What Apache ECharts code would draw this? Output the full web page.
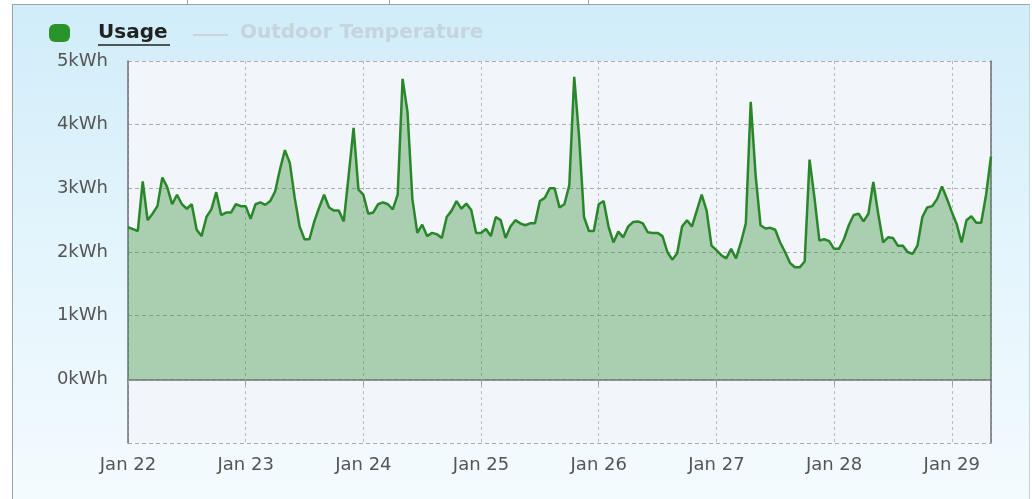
<!DOCTYPE html>
<html>
<head>
<meta charset="utf-8">
<script src="https://cdn.jsdelivr.net/npm/echarts@6/dist/echarts.min.js"></script>
<style>
  html, body { margin: 0; padding: 0; background: #fff; }
  #frame {
    position: absolute; left: 12px; top: 4px; width: 1016px; height: 495px;
    border-left: 1px solid #9aa3a8; border-top: 1px solid #9aa3a8; border-right: 1px solid #c9d3d8;
    background: linear-gradient(to bottom, #d0edf9 0%, #e2f4fc 45%, #f4fbfe 100%);
  }
  .tab { position: absolute; top: 0; width: 1px; height: 5px; background: #9aa3a8; }
  #main { position: absolute; left: 0; top: 0; width: 1032px; height: 499px; }
</style>
</head>
<body>
<div id="frame"></div>
<div class="tab" style="left:187px"></div>
<div class="tab" style="left:389px"></div>
<div class="tab" style="left:588px"></div>
<div id="main"></div>
<script>
var myChart = echarts.init(document.getElementById('main'));

// hourly usage in kWh, starting Jan 22 00:00
var usage = [
  2.39, 2.36, 2.33, 3.11, 2.50, 2.60, 2.72, 3.17, 3.02, 2.75, 2.90, 2.75,
  2.68, 2.75, 2.35, 2.25, 2.55, 2.67, 2.94, 2.58, 2.62, 2.62, 2.75, 2.72,
  2.72, 2.52, 2.75, 2.78, 2.74, 2.80, 2.95, 3.30, 3.60, 3.40, 2.85, 2.40,
  2.20, 2.20, 2.48, 2.70, 2.90, 2.70, 2.65, 2.65, 2.48, 3.20, 3.95, 2.98,
  2.90, 2.60, 2.62, 2.75, 2.78, 2.75, 2.67, 2.90, 4.72, 4.20, 2.83, 2.30,
  2.43, 2.25, 2.30, 2.28, 2.22, 2.55, 2.65, 2.80, 2.68, 2.76, 2.66, 2.30,
  2.30, 2.36, 2.25, 2.55, 2.50, 2.22, 2.40, 2.50, 2.45, 2.42, 2.45, 2.45,
  2.80, 2.85, 3.00, 3.00, 2.70, 2.75, 3.05, 4.75, 3.80, 2.55, 2.33, 2.33,
  2.75, 2.80, 2.40, 2.15, 2.32, 2.23, 2.40, 2.47, 2.48, 2.45, 2.31, 2.30,
  2.30, 2.25, 2.00, 1.88, 1.98, 2.40, 2.50, 2.40, 2.65, 2.90, 2.65, 2.10,
  2.03, 1.95, 1.90, 2.05, 1.90, 2.15, 2.45, 4.36, 3.20, 2.42, 2.37, 2.38,
  2.35, 2.15, 2.00, 1.83, 1.76, 1.76, 1.85, 3.45, 2.85, 2.18, 2.20, 2.17,
  2.05, 2.05, 2.20, 2.42, 2.58, 2.60, 2.48, 2.60, 3.10, 2.60, 2.15, 2.23,
  2.22, 2.10, 2.10, 2.00, 1.97, 2.10, 2.55, 2.70, 2.72, 2.83, 3.03, 2.84,
  2.63, 2.44, 2.15, 2.50, 2.56, 2.46, 2.46, 2.90, 3.50
];
var temperature = [];  // series is switched off in the legend

var start = new Date(2013, 0, 22).getTime();
var hour = 3600 * 1000;
var usageData = usage.map(function (v, i) { return [start + i * hour, v]; });

var labelFont = 'DejaVu Sans';

var option = {
    backgroundColor: 'transparent',
    animation: false,
    grid: {
        left: 128, right: 41, top: 61, bottom: 56,
        show: true, backgroundColor: '#f2f5fa', borderWidth: 0
    },
    graphic: [
        { type: 'rect', left: 49, top: 24, shape: { width: 21, height: 18, r: 6 }, style: { fill: '#2a932a' } },
        { type: 'text', left: 98, top: 23, style: { text: 'Usage', font: 'bold 20px "DejaVu Sans"', fill: '#222' } },
        { type: 'line', shape: { x1: 98, y1: 45, x2: 170, y2: 45 }, style: { stroke: '#222', lineWidth: 1.5 } },
        { type: 'line', shape: { x1: 193, y1: 35, x2: 228, y2: 35 }, style: { stroke: '#cdd3d6', lineWidth: 2 } },
        { type: 'text', left: 240, top: 23, style: { text: 'Outdoor Temperature', font: 'bold 20px "DejaVu Sans"', fill: '#c6d4db' } }
    ],
    xAxis: {
        type: 'time',
        min: start,
        max: start + (usage.length - 1) * hour,
        minInterval: 24 * hour,
        maxInterval: 24 * hour,
        axisLine: { lineStyle: { color: '#6b7377', width: 1.5 } },
        axisTick: { show: true, length: 6, lineStyle: { color: '#9aa0a4' } },
        axisLabel: {
            color: '#555', fontSize: 18, fontFamily: labelFont, margin: 13,
            formatter: function (v) { return 'Jan ' + new Date(v).getDate(); }
        },
        splitLine: { show: true, lineStyle: { color: '#b8bcc0', type: [3, 3] } }
    },
    yAxis: [
        {
            type: 'value', min: -1, max: 5, interval: 1,
            axisLine: { show: true, lineStyle: { color: '#6b7377', width: 1.5 } },
            axisTick: { show: false },
            axisLabel: {
                color: '#555', fontSize: 18, fontFamily: labelFont, margin: 20,
                formatter: function (v) { return v < 0 ? '' : v + 'kWh'; }
            },
            splitLine: { show: true, lineStyle: { color: '#a8acb0', type: [4, 3] } }
        },
        {
            type: 'value', position: 'right', min: 0, max: 1,
            axisLine: { show: true, lineStyle: { color: '#6b7377', width: 1.5 } },
            axisTick: { show: false }, axisLabel: { show: false }, splitLine: { show: false }
        }
    ],
    series: [
        {
            name: 'Usage',
            type: 'line',
            data: usageData,
            showSymbol: false,
            lineStyle: { color: '#2a862a', width: 2.5 },
            itemStyle: { color: '#2a862a' },
            areaStyle: { color: 'rgba(40,140,40,0.5)', origin: 0 },
            z: 3
        },
        {
            name: 'Outdoor Temperature',
            type: 'line',
            yAxisIndex: 1,
            data: temperature,
            showSymbol: false,
            lineStyle: { color: '#c9d3d8' }
        }
    ]
};

myChart.setOption(option);
</script>
</body>
</html>
